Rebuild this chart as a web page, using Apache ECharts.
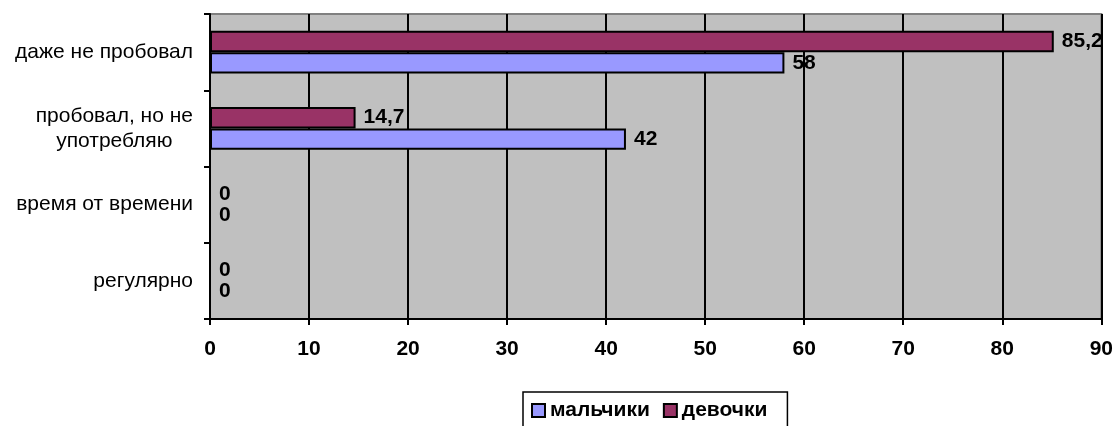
<!DOCTYPE html>
<html>
<head>
<meta charset="utf-8">
<script src="https://cdn.jsdelivr.net/npm/echarts@6/dist/echarts.min.js"></script>
<style>
  html, body { margin: 0; padding: 0; background: #ffffff; }
  #chart { width: 1116px; height: 426px; }
</style>
</head>
<body>
<div id="chart"></div>
<script>
// Categories listed from bottom to top of the chart
const categories = ['регулярно', 'время от времени', 'пробовал, но не\nупотребляю', 'даже не пробовал'];
const boys = [0, 0, 42, 58];
const girls = [0, 0, 14.7, 85.2];
const legendNames = ['мальчики', 'девочки'];
const xTicks = { min: 0, max: 90, interval: 10 };

const FONT = '"Liberation Sans", Arial, sans-serif';
const FS = 21;

const chart = echarts.init(document.getElementById('chart'), null, { renderer: 'canvas' });

const valueLabel = {
  show: true,
  position: 'right',
  distance: 8,
  color: '#000',
  fontFamily: FONT,
  fontSize: FS,
  fontWeight: 'bold',
  formatter: p => String(p.value).replace('.', ',')
};

chart.setOption({
  animation: false,
  backgroundColor: '#ffffff',
  textStyle: { fontFamily: FONT },
  grid: {
    left: 210, right: 14, top: 14, bottom: 107,
    show: true,
    backgroundColor: '#C0C0C0',
    borderColor: '#808080',
    borderWidth: 2
  },
  legend: {
    data: legendNames,
    left: 523,
    top: 392,
    orient: 'horizontal',
    icon: 'rect',
    itemWidth: 13,
    itemHeight: 13,
    itemGap: 13,
    padding: [8, 20, 14, 8],
    borderColor: '#000',
    borderWidth: 1.5,
    borderRadius: 0,
    textStyle: { color: '#000', fontFamily: FONT, fontSize: FS, fontWeight: 'bold' }
  },
  xAxis: {
    type: 'value',
    min: xTicks.min,
    max: xTicks.max,
    interval: xTicks.interval,
    axisLine: { show: true, lineStyle: { color: '#000', width: 2 } },
    axisTick: { show: true, length: 6, lineStyle: { color: '#000', width: 2 } },
    splitLine: { show: true, lineStyle: { color: '#000', width: 2 } },
    axisLabel: { color: '#000', fontFamily: FONT, fontSize: FS, fontWeight: 'bold', margin: 20 }
  },
  yAxis: {
    type: 'category',
    data: categories,
    axisLine: { show: true, lineStyle: { color: '#000', width: 2 } },
    axisTick: { show: true, length: 6, lineStyle: { color: '#000', width: 2 } },
    splitLine: { show: false },
    axisLabel: {
      color: '#000',
      fontFamily: FONT,
      fontSize: FS,
      margin: 17,
      lineHeight: 25,
      formatter: v => v.indexOf('\n') >= 0
        ? v.split('\n').map(s => '{c|' + s + '}').join('\n')
        : v,
      rich: {
        c: { align: 'center', fontFamily: FONT, fontSize: FS, color: '#000', lineHeight: 25 }
      }
    }
  },
  // девочки first so its bar sits above мальчики within each category
  series: [
    {
      name: 'девочки',
      type: 'bar',
      data: girls,
      barGap: '0%',
      barCategoryGap: '44%',
      itemStyle: { color: '#993366', borderColor: '#000', borderWidth: 2 },
      label: valueLabel
    },
    {
      name: 'мальчики',
      type: 'bar',
      data: boys,
      barGap: '0%',
      barCategoryGap: '44%',
      itemStyle: { color: '#9999FF', borderColor: '#000', borderWidth: 2 },
      label: valueLabel
    }
  ]
});
</script>
</body>
</html>
